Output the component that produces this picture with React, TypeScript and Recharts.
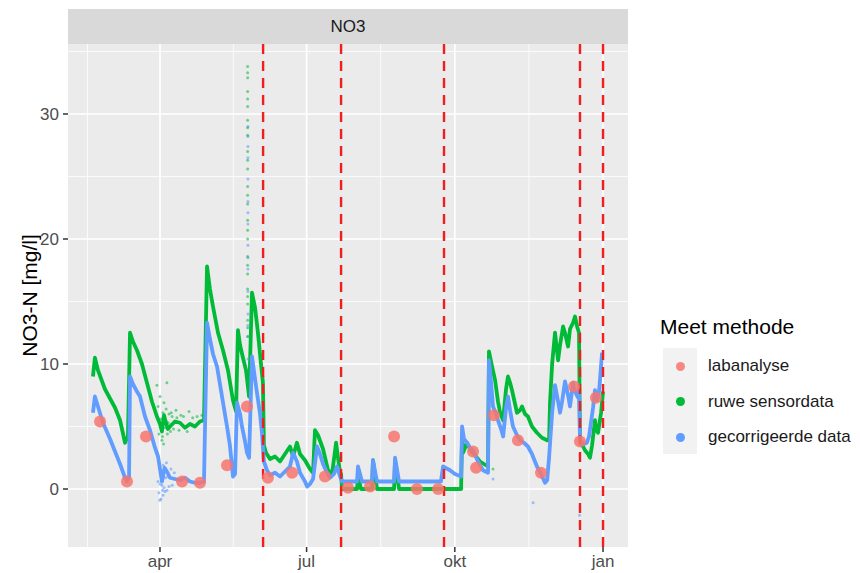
import React from 'react';
import { ComposedChart, Line, Scatter, XAxis, YAxis, ReferenceLine, CartesianGrid } from 'recharts';

// x = day of year 2021 (0 = 1 jan), y = NO3-N mg/l
const monthTicks = [90, 181, 273, 365];
const monthLabels = ['apr', 'jul', 'okt', 'jan'];
const minorX = [45, 135.5, 227, 319];
const majorY = [0, 10, 20, 30];
const minorY = [5, 15, 25, 35];
const changeDates = [154, 202.4, 266.3, 350.7, 365];

const ruweSensordata: [number, number][] = [
  [48.4, 9.0], [49.6, 10.5], [51.5, 9.5], [55.8, 8.0], [62.1, 6.5], [65.2, 5.5], [68.3, 3.7], [70.1, 4.2],
  [71.4, 12.5], [73.2, 11.8], [75.7, 11.1], [78.8, 10.0], [81.9, 8.5], [85.0, 7.0], [88.1, 5.8], [90.0, 5.2],
  [91.2, 4.6], [92.5, 5.9], [93.1, 5.6], [94.9, 4.8], [96.2, 5.0], [99.3, 5.4], [102.4, 5.3], [105.5, 4.9],
  [108.6, 5.2], [111.7, 5.0], [114.8, 5.4],
  [117.3, 5.5], [119.2, 17.8], [121.0, 16.0], [122.9, 14.6], [126.0, 12.5], [129.1, 11.1], [132.2, 9.5],
  [135.3, 7.1], [137.2, 6.2], [138.4, 12.7], [139.7, 11.5], [141.5, 10.5], [143.4, 9.5], [145.3, 7.4],
  [147.1, 15.7], [149.0, 14.5], [150.8, 12.5], [152.7, 10.0], [153.9, 8.5], [154.5, 3.5], [155.8, 2.9],
  [158.3, 2.4], [161.4, 2.6], [164.5, 2.2], [167.6, 2.8], [170.7, 3.4], [172.6, 2.6], [175.0, 3.7],
  [176.9, 2.8], [180.0, 2.3], [183.1, 1.6], [185.0, 1.3], [186.2, 4.7], [188.1, 4.3], [191.2, 3.2],
  [194.3, 1.5], [196.8, 1.2], [199.3, 3.7], [200.5, 2.5], [201.8, 1.3], [202.4, 1.2], [203.0, 0.0],
  [212.3, 0.0], [212.9, 1.0], [214.8, 0.0], [221.6, 0.0], [222.2, 2.3], [224.7, 0.0], [235.3, 0.0],
  [235.9, 2.3], [238.4, 0.0], [276.9, 0.0], [277.5, 4.2], [278.1, 2.9], [280.6, 3.7], [282.4, 3.2],
  [284.3, 2.9], [288.6, 2.2], [293.6, 1.8], [294.2, 11.0], [296.1, 9.8], [298.0, 8.7], [299.8, 7.0],
  [301.1, 6.1], [303.0, 5.5], [304.8, 8.0], [306.0, 9.0], [307.3, 8.5], [308.5, 7.9], [310.4, 6.8],
  [311.6, 6.1], [313.5, 6.3], [314.7, 6.6], [316.6, 6.0], [318.4, 5.8], [320.9, 5.0], [324.0, 4.5],
  [327.1, 4.1], [330.3, 3.9], [331.5, 3.9], [332.1, 6.9], [333.4, 10.0], [335.2, 12.5], [337.1, 10.3],
  [338.3, 11.5], [340.2, 13.0], [341.4, 12.5], [343.3, 11.4], [344.5, 12.8], [346.4, 13.3], [347.6, 13.8],
  [348.9, 13.0], [350.1, 12.5], [350.7, 3.8], [352.6, 3.4], [353.8, 3.1], [355.7, 2.8], [356.9, 2.5],
  [358.2, 3.5], [360.0, 5.5], [360.6, 4.8], [361.9, 4.5], [363.8, 6.1], [365.0, 7.8],
];

const gecorrigeerdeData: [number, number][] = [
  [48.4, 6.1], [49.6, 7.4], [51.5, 6.6], [54.6, 5.3], [59.0, 4.0], [62.1, 3.0], [65.2, 2.0], [68.3, 0.9],
  [69.5, 0.6], [70.8, 1.0], [71.4, 9.0], [73.2, 8.4], [75.7, 7.8], [77.6, 7.4], [80.7, 5.8], [83.8, 4.7],
  [86.9, 3.3], [88.8, 2.6], [90.0, 1.6], [91.2, 0.6], [91.9, 1.0], [92.8, 1.7], [94.3, 1.4], [96.2, 0.9],
  [99.3, 0.8], [102.4, 0.7], [105.5, 0.9], [108.6, 0.6], [111.7, 0.5], [114.8, 0.5], [117.3, 0.6],
  [119.2, 13.3], [121.0, 12.0],
  [122.9, 10.8], [125.4, 9.8], [128.5, 7.4], [131.6, 5.0], [133.4, 3.5], [135.3, 1.0], [136.6, 1.2],
  [137.8, 6.9], [139.7, 6.0], [140.9, 5.0], [142.8, 3.8], [144.0, 2.9], [145.3, 2.5], [147.1, 10.6],
  [149.0, 8.8], [150.2, 7.7], [152.1, 6.0], [153.3, 4.5], [154.5, 2.2], [156.4, 1.5], [158.3, 1.1],
  [161.4, 1.3], [164.5, 1.0], [167.6, 1.4], [170.7, 1.8], [172.6, 2.9], [175.0, 2.2], [176.9, 1.3],
  [180.0, 0.6], [181.3, 0.2], [183.1, 0.4], [185.0, 0.8], [187.5, 3.4], [189.3, 2.8], [191.2, 2.0],
  [193.7, 1.3], [195.6, 0.9], [198.0, 1.2], [199.9, 1.8], [201.8, 1.0], [203.0, 0.6], [212.3, 0.6],
  [212.9, 1.8], [215.4, 0.6], [221.6, 0.6], [222.2, 2.3], [224.7, 0.6], [235.3, 0.6], [235.9, 2.5],
  [238.4, 0.6], [264.4, 0.6], [265.7, 1.8], [270.0, 1.5], [273.1, 1.2], [276.9, 1.0], [277.5, 5.0],
  [278.7, 4.0], [280.6, 3.7], [282.4, 3.3], [284.3, 3.1], [287.4, 2.2], [290.5, 1.5], [293.6, 1.3],
  [294.2, 10.3], [295.5, 8.5], [296.7, 6.6], [298.6, 6.0], [299.8, 5.5], [301.7, 4.8], [303.0, 4.2],
  [304.8, 6.5], [306.0, 7.4], [307.3, 6.3], [309.1, 5.0], [311.6, 4.3], [313.5, 3.9], [315.9, 3.7],
  [318.4, 3.4], [320.9, 2.8], [324.0, 1.8], [326.5, 1.2], [329.0, 0.5], [330.3, 0.7], [331.5, 2.5],
  [333.4, 6.1], [335.2, 8.3], [337.1, 7.0], [338.3, 6.1], [339.6, 7.0], [341.4, 8.6], [343.3, 7.5],
  [344.5, 6.6], [346.4, 8.5], [347.6, 7.8], [349.5, 7.3], [350.1, 8.0], [350.7, 3.9], [353.2, 3.6],
  [355.0, 3.7], [356.3, 4.2], [357.5, 5.3], [358.8, 6.5], [360.0, 7.9], [361.3, 7.1], [362.5, 7.8],
  [363.1, 8.7], [364.4, 10.9],
];

const ruweLosse: [number, number][] = [
  [88.1, 8.3], [94.3, 8.5], [90.0, 7.4], [88.8, 6.6], [91.9, 6.1], [91.2, 3.9], [89.4, 4.4], [92.5, 6.9],
  [95.6, 6.0], [97.5, 5.8], [99.9, 6.3], [103.0, 5.9], [108.0, 6.2], [113.0, 5.8], [296.7, 1.6],
  [90.6, 5.6], [91.5, 4.2], [92.2, 3.6], [93.4, 4.9], [93.8, 6.4], [94.6, 4.4], [95.2, 5.3], [96.5, 4.6],
  [97.0, 6.1], [98.4, 4.8], [100.5, 5.7], [101.8, 4.7], [104.6, 5.8], [106.9, 4.6], [110.3, 5.7], [116.0, 5.9],
  [144.4, 33.8], [144.4, 32.9], [144.4, 31.8], [144.4, 30.6], [144.4, 29.5], [144.4, 28.3], [144.4, 27.0],
  [144.4, 25.6], [144.4, 24.2], [144.4, 22.8], [144.4, 21.5], [144.4, 20.0], [144.4, 18.6], [144.4, 17.2],
  [144.4, 16.0], [144.4, 14.8], [144.4, 13.5], [144.4, 12.2], [144.4, 33.3], [144.4, 31.2], [144.4, 28.9],
  [144.4, 26.3], [144.4, 23.5], [144.4, 20.7], [144.4, 17.9], [144.4, 15.4], [144.4, 12.9],
];

const gecorrigeerdLosse: [number, number][] = [
  [89.4, -0.3], [90.6, -0.8], [91.2, 0.3], [91.9, -0.5], [92.5, 0.1], [93.1, -0.2], [90.0, 0.4],
  [94.3, -0.1], [88.8, 0.6], [95.6, 0.2], [321.6, -1.1], [296.7, 0.8], [350.4, -2.1],
  [89.9, -0.9], [90.4, 1.2], [91.6, -0.1], [92.0, 1.9], [93.6, 0.9], [94.0, 2.1], [95.0, 1.0],
  [96.8, 1.6], [97.6, 0.3], [98.9, 1.3],
  [144.6, 29.0], [144.6, 28.2], [144.6, 26.5], [144.6, 24.8], [144.6, 23.0], [144.6, 21.2], [144.6, 19.5],
  [144.6, 17.6], [144.6, 15.8], [144.6, 14.0], [144.6, 12.2], [144.6, 10.4], [144.6, 27.4], [144.6, 22.1],
  [144.6, 18.5], [144.6, 13.1],
];

const labanalyse: [number, number][] = [
  [52.8, 5.4], [69.5, 0.6], [81.3, 4.2], [103.7, 0.6], [114.8, 0.5], [131.6, 1.9], [144.0, 6.6],
  [157.0, 0.9], [172.0, 1.3], [192.4, 1.0], [206.7, 0.1], [220.4, 0.2], [235.3, 4.2], [249.5, 0.0],
  [262.6, 0.0], [284.3, 3.0], [286.2, 1.7], [297.3, 5.9], [312.2, 3.9], [326.5, 1.3], [347.0, 8.2],
  [350.7, 3.8], [360.6, 7.3],
];

const legendItems = ['labanalyse', 'ruwe sensordata', 'gecorrigeerde data'];
const legendColors = ['#F8766D', '#00BA38', '#619CFF'];

const toPts = (arr: [number, number][]) => arr.map(([x, y]) => ({ x, y }));

const FONT = '"Liberation Sans", Arial, Helvetica, sans-serif';

export default function App() {
  return (
    <div style={{ position: 'absolute', left: 0, top: 0, width: 860, height: 573, background: '#fff', fontFamily: FONT }}>
      <div
        style={{
          position: 'absolute', left: 68, top: 9, width: 560, height: 35, background: '#D9D9D9',
          display: 'flex', alignItems: 'center', justifyContent: 'center', fontSize: 17, color: '#1A1A1A',
        }}
      >
        NO3
      </div>
      <ComposedChart width={860} height={573} margin={{ top: 44, right: 232, bottom: 0, left: 8 }}>
        <CartesianGrid fill="#EBEBEB" fillOpacity={1} stroke="#FFFFFF" strokeWidth={0.8}
          horizontalValues={minorY} verticalValues={minorX} />
        <CartesianGrid stroke="#FFFFFF" strokeWidth={1.7}
          horizontalValues={majorY} verticalValues={monthTicks} />
        <XAxis
          type="number" dataKey="x" domain={[32.9, 380.5]} allowDataOverflow
          ticks={monthTicks} tickFormatter={(v: number) => monthLabels[monthTicks.indexOf(v)]}
          axisLine={false} tickLine={{ stroke: '#333333', strokeWidth: 1.5 }} tickSize={5} tickMargin={3}
          height={26} tick={{ fill: '#4D4D4D', fontSize: 17, fontFamily: FONT }} interval={0}
        />
        <YAxis
          type="number" dataKey="y" domain={[-4.64, 35.6]} allowDataOverflow
          ticks={majorY} axisLine={false} tickLine={{ stroke: '#333333', strokeWidth: 1.5 }} tickSize={5}
          tickMargin={4} width={60} tick={{ fill: '#4D4D4D', fontSize: 17, fontFamily: FONT }} interval={0}
          label={{ value: 'NO3-N [mg/l]', angle: -90, position: 'insideLeft', offset: 22,
            style: { textAnchor: 'middle', fontSize: 21, fill: '#000', fontFamily: FONT } }}
        />
        <Scatter data={toPts(gecorrigeerdLosse)} isAnimationActive={false}
          shape={(p: any) => <circle cx={p.cx} cy={p.cy} r={1.5} fill="#619CFF" fillOpacity={0.6} />} />
        <Scatter data={toPts(ruweLosse)} isAnimationActive={false}
          shape={(p: any) => <circle cx={p.cx} cy={p.cy} r={1.5} fill="#00BA38" fillOpacity={0.55} />} />
        <Line data={toPts(ruweSensordata)} dataKey="y" type="linear" stroke="#00BA38" strokeWidth={3.8}
          dot={false} activeDot={false} isAnimationActive={false} strokeLinejoin="round" />
        <Line data={toPts(gecorrigeerdeData)} dataKey="y" type="linear" stroke="#619CFF" strokeWidth={3.8}
          dot={false} activeDot={false} isAnimationActive={false} strokeLinejoin="round" />
        <Scatter data={toPts(labanalyse)} isAnimationActive={false}
          shape={(p: any) => <circle cx={p.cx} cy={p.cy} r={6} fill="#F8766D" fillOpacity={0.85} />} />
        {changeDates.map((d) => (
          <ReferenceLine key={d} x={d} stroke="#F01E1E" strokeWidth={2.4} strokeDasharray="10 7" />
        ))}
      </ComposedChart>
      <div style={{ position: 'absolute', left: 660, top: 315, fontSize: 21, color: '#000', lineHeight: '24px' }}>
        Meet methode
      </div>
      <div style={{ position: 'absolute', left: 663, top: 348, width: 34, height: 106, background: '#F2F2F2' }} />
      {legendItems.map((name, i) => (
        <React.Fragment key={name}>
          <div style={{
            position: 'absolute', left: 680 - 4.5, top: 366 + i * 35.5 - 4.5, width: 9, height: 9, borderRadius: '50%',
            background: legendColors[i], opacity: i === 0 ? 0.85 : 1,
          }} />
          <div style={{ position: 'absolute', left: 708, top: 366 + i * 35.5 - 10, fontSize: 17, lineHeight: '20px', color: '#1A1A1A' }}>
            {name}
          </div>
        </React.Fragment>
      ))}
    </div>
  );
}
